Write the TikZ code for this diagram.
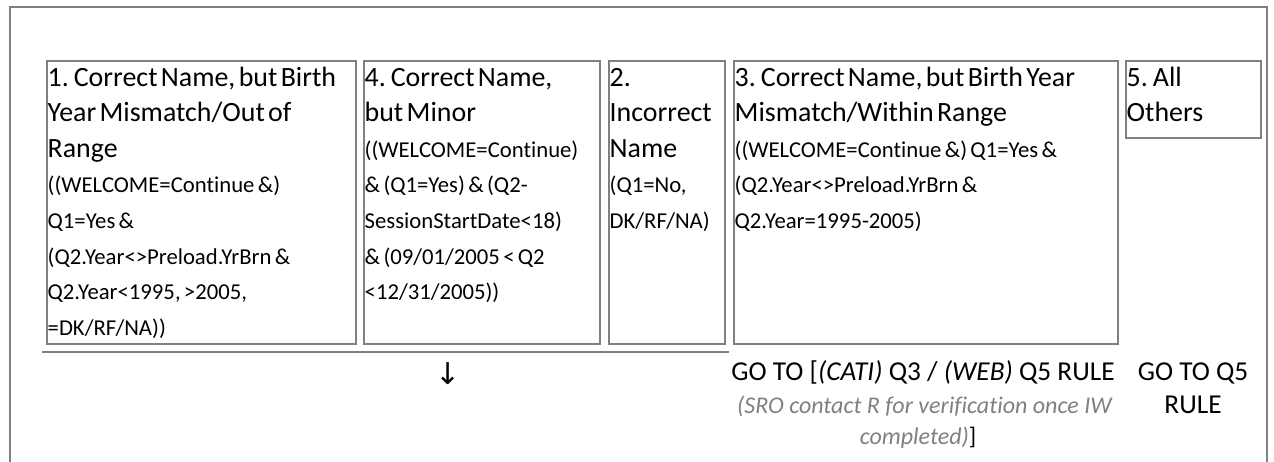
\documentclass[tikz,border=0pt]{standalone}
\usepackage{fontspec}
\setmainfont{Carlito}[Ligatures={NoCommon}]
\newfontfamily\arrowfont{DejaVu Sans}
\definecolor{lgray}{HTML}{808080}
\newcommand\bigf{\fontsize{27.9}{35.6}\selectfont}
\newcommand\smf{\fontsize{22.7}{35.6}\selectfont}
\newcommand\gof{\fontsize{27.3}{33}\selectfont}
\newcommand\notef{\fontsize{24}{30}\selectfont}
\begin{document}
\begin{tikzpicture}[x=1pt,y=-1pt,
  rule/.style={draw=lgray, line width=2pt},
  cell/.style={draw=lgray, line width=2pt, inner sep=0pt, anchor=north west},
  txt/.style={anchor=base west, inner sep=0pt, align=left, text width=400pt},
  ctxt/.style={anchor=base, inner sep=0pt, font=\gof}]
\useasboundingbox (0,0) rectangle (1274,461);
% outer frame (open at the bottom)
\draw[rule] (10,462) -- (10,7) -- (1267,7) -- (1267,462);
% boxes
\node[cell, minimum width=309pt, minimum height=283pt] (b1) at (46,60) {};
\node[cell, minimum width=236pt, minimum height=283pt] (b4) at (363,60) {};
\node[cell, minimum width=116pt, minimum height=283pt] (b2) at (608,60) {};
\node[cell, minimum width=384pt, minimum height=283pt] (b3) at (733,60) {};
\node[cell, minimum width=135pt, minimum height=77pt] (b5) at (1125,60) {};
% texts
\node[txt] (t1) at (47.5,86) {{\bigf 1. Correct Name, but Birth\\Year Mismatch/Out of\\Range\par}{\smf ((WELCOME=Continue \&)\\Q1=Yes \&\\(Q2.Year<>Preload.YrBrn \&\\Q2.Year<1995, >2005,\\=DK/RF/NA))\par}};
\node[txt] (t4) at (364.5,86) {{\bigf 4. Correct Name,\\but Minor\par}{\smf ((WELCOME=Continue)\\\& (Q1=Yes) \& (Q2-\\SessionStartDate<18)\\\& (09/01/2005 < Q2\\<12/31/2005))\par}};
\node[txt] (t2) at (609.5,86) {{\bigf 2.\\Incorrect\\Name\par}{\smf (Q1=No,\\DK/RF/NA)\par}};
\node[txt] (t3) at (734.5,86) {{\bigf 3. Correct Name, but Birth Year\\Mismatch/Within Range\par}{\smf ((WELCOME=Continue \&) Q1=Yes \&\\(Q2.Year<>Preload.YrBrn \&\\Q2.Year=1995-2005)\par}};
\node[txt] (t5) at (1126.5,86) {{\bigf 5. All\\Others\par}};
% separator line and arrow
\draw[rule] (42,352) -- (729,352);
\node[inner sep=0pt, font=\arrowfont\fontsize{30}{30}\selectfont] (arr) at (448,374) {↓};
% bottom instructions
\node[ctxt] (go3a) at (923,380) {GO TO [\textit{(CATI)} Q3 / \textit{(WEB)} Q5 RULE};
\node[ctxt, font=\notef, text=lgray] (go3b) at (925,413) {\textit{(SRO contact R for verification once IW}};
\node[ctxt, font=\notef] (go3c) at (918,444) {\textcolor{lgray}{\textit{completed)}}]};
\node[ctxt] (go5a) at (1193,380) {GO TO Q5};
\node[ctxt] (go5b) at (1193,413) {RULE};
\end{tikzpicture}
\end{document}
